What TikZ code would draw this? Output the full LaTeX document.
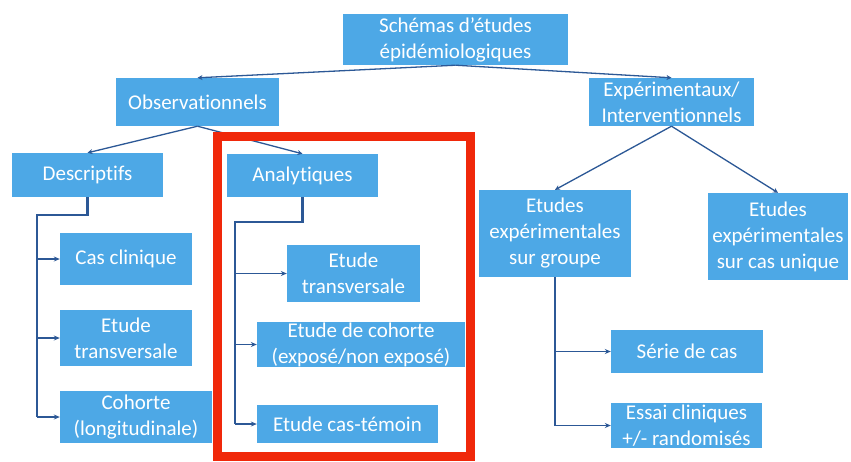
\documentclass[tikz,border=0pt]{standalone}
\usepackage{fontspec}
\setmainfont{Carlito}[Ligatures=NoCommon]
\usetikzlibrary{arrows.meta}
\definecolor{boxblue}{RGB}{77,168,230}
\definecolor{linkblue}{RGB}{44,88,150}
\definecolor{framered}{RGB}{240,40,10}
\begin{document}
\begin{tikzpicture}[x=1pt,y=-1pt,
  bx/.style={fill=boxblue,text=white,align=center,inner sep=0pt,font=\fontsize{21}{26}\selectfont},
  diag/.style={draw=linkblue,line width=1.3pt,-{Stealth[length=5pt,width=5pt]}},
  elbow/.style={draw=linkblue,line width=2.2pt},
  arr/.style={draw=linkblue,line width=1.3pt,-{Stealth[length=6pt,width=5pt]}}]
\useasboundingbox (0,0) rectangle (851,461);
\fill[white] (0,0) rectangle (851,461);
% nodes
\node[bx,minimum width=225,minimum height=51] (top) at (455.5,39.5) {Schémas d’études\\épidémiologiques};
\node[bx,minimum width=163,minimum height=48] (obs) at (197.5,102) {Observationnels};
\node[bx,minimum width=165,minimum height=48] (exp) at (671.5,102) {Expérimentaux/\\Interventionnels};
\node[bx,minimum width=151,minimum height=44] (desc) at (87.5,175) {Descriptifs};
\node[bx,minimum width=151,minimum height=43] (ana) at (302.5,175.5) {Analytiques};
\node[bx,minimum width=132,minimum height=52] (cas) at (126,259) {Cas clinique};
\node[bx,minimum width=132,minimum height=56] (trans1) at (126,338) {Etude\\transversale};
\node[bx,minimum width=152,minimum height=52] (coh1) at (136,417) {Cohorte\\(longitudinale)};
\node[bx,minimum width=133,minimum height=57] (trans2) at (353.5,273.5) {Etude\\transversale};
\node[bx,minimum width=208,minimum height=45] (coh2) at (361,344.5) {Etude de cohorte\\(exposé/non exposé)};
\node[bx,minimum width=181,minimum height=38] (ct) at (347.5,424) {Etude cas-témoin};
\node[bx,minimum width=152,minimum height=87] (grp) at (555,233.5) {Etudes\\expérimentales\\sur groupe};
\node[bx,minimum width=140,minimum height=87] (uniq) at (778,236.5) {Etudes\\expérimentales\\sur cas unique};
\node[bx,minimum width=152,minimum height=43] (serie) at (687,351.5) {Série de cas};
\node[bx,minimum width=151,minimum height=45] (essai) at (686.5,425.5) {Essai cliniques\\+/- randomisés};
% diagonal links
\draw[diag] (top.south) -- (obs.north);
\draw[diag] (top.south) -- (exp.north);
\draw[diag] (obs.south) -- (desc.north);
\draw[diag] (obs.south) -- (ana.north);
\draw[diag] (exp.south) -- (grp.north);
\draw[diag] (exp.south) -- (uniq.north);
% descriptifs elbow
\coordinate (d1) at (37,215);
\draw[elbow] (desc.south) |- (d1) -- (d1 |- coh1.west);
\draw[arr] (d1 |- cas.west) -- (cas.west);
\draw[arr] (d1 |- trans1.west) -- (trans1.west);
\draw[arr] (d1 |- coh1.west) -- (coh1.west);
% analytiques elbow
\coordinate (a1) at (235,222);
\draw[elbow] (ana.south) |- (a1) -- (a1 |- ct.west);
\draw[arr] (a1 |- trans2.west) -- (trans2.west);
\draw[arr] (a1 |- coh2.west) -- (coh2.west);
\draw[arr] (a1 |- ct.west) -- (ct.west);
% groupe link
\coordinate (g1) at (555,425.5);
\draw[draw=linkblue,line width=1.5pt] (grp.south) -- (g1);
\draw[arr] (grp.south |- serie.west) -- (serie.west);
\draw[arr] (g1) -- (essai.west);
% red frame
\draw[framered,line width=9pt] (217.5,136) rectangle (470,456);
\end{tikzpicture}
\end{document}
